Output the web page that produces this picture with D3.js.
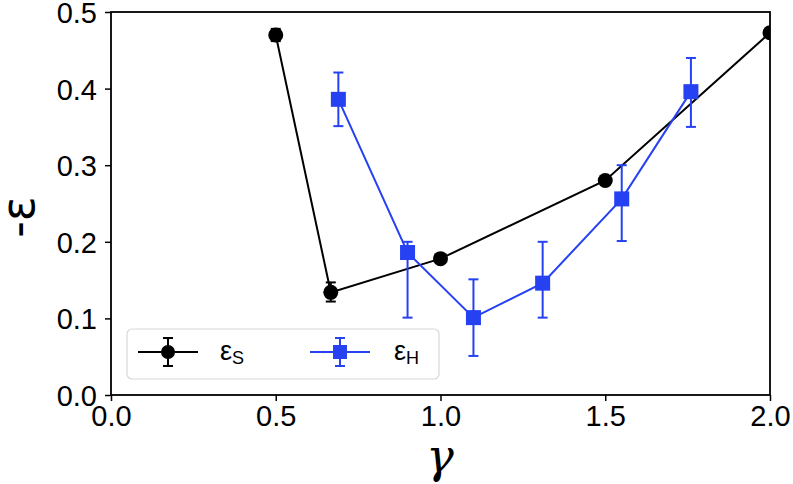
<!DOCTYPE html>
<html><head><meta charset="utf-8">
<script src="https://cdn.jsdelivr.net/npm/d3@7"></script>
<style>body{margin:0;background:#fff}</style>
</head><body>
<svg id="c" width="793" height="484"></svg>
<script>
// ε_S series
const sX = [0.5, 0.667, 1.0, 1.5, 2.0];
const sY = [0.470, 0.134, 0.178, 0.280, 0.473];
const sLo = [0.462, 0.122, 0.174, 0.276, 0.469];
const sHi = [0.478, 0.147, 0.182, 0.284, 0.477];
// ε_H series
const hX = [0.69, 0.90, 1.10, 1.31, 1.55, 1.76];
const hY = [0.386, 0.186, 0.101, 0.146, 0.256, 0.396];
const hLo = [0.351, 0.101, 0.051, 0.101, 0.201, 0.350];
const hHi = [0.421, 0.200, 0.151, 0.200, 0.300, 0.440];
const xTicks = [0.0, 0.5, 1.0, 1.5, 2.0];
const yTicks = [0.0, 0.1, 0.2, 0.3, 0.4, 0.5];

const black = "#000000", blue = "#2541f2";
const svg = d3.select("#c");
const L = 111, R = 770, T = 12, B = 395;
const x = d3.scaleLinear().domain([0, 2]).range([L, R]);
const y = d3.scaleLinear().domain([0, 0.5]).range([B, T]);
const font = "'Liberation Sans', Arial, Helvetica, sans-serif";

svg.append("defs").append("clipPath").attr("id", "clip")
  .append("rect").attr("x", L).attr("y", T).attr("width", R - L).attr("height", B - T);

// axes
const xa = svg.append("g").attr("transform", `translate(0,${B})`)
  .call(d3.axisBottom(x).tickValues(xTicks).tickFormat(d3.format(".1f")).tickSize(6).tickPadding(4));
const ya = svg.append("g").attr("transform", `translate(${L},0)`)
  .call(d3.axisLeft(y).tickValues(yTicks).tickFormat(d3.format(".1f")).tickSize(6).tickPadding(8));
[xa, ya].forEach(g => {
  g.select(".domain").remove();
  g.selectAll("line").attr("stroke", "#000").attr("stroke-width", 1.5);
  g.selectAll("text").attr("font-family", font).attr("font-size", 29).attr("fill", "#000");
});
ya.selectAll("text").attr("dy", "0.36em");
// frame
svg.append("rect").attr("x", L).attr("y", T).attr("width", R - L).attr("height", B - T)
  .attr("fill", "none").attr("stroke", "#000").attr("stroke-width", 1.8);

const plot = svg.append("g").attr("clip-path", "url(#clip)");
function series(xs, ys, lo, hi, col, shape) {
  const pts = xs.map((d, i) => ({x: d, y: ys[i], lo: lo[i], hi: hi[i]}));
  plot.append("path").datum(pts)
    .attr("d", d3.line().x(d => x(d.x)).y(d => y(d.y)))
    .attr("fill", "none").attr("stroke", col).attr("stroke-width", 2);
  const eb = plot.append("g");
  pts.forEach(d => {
    eb.append("line").attr("x1", x(d.x)).attr("x2", x(d.x)).attr("y1", y(d.lo)).attr("y2", y(d.hi))
      .attr("stroke", col).attr("stroke-width", 2);
    [d.lo, d.hi].forEach(v => eb.append("line").attr("x1", x(d.x) - 5).attr("x2", x(d.x) + 5)
      .attr("y1", y(v)).attr("y2", y(v)).attr("stroke", col).attr("stroke-width", 2));
  });
  pts.forEach(d => {
    if (shape === "circle") plot.append("circle").attr("cx", x(d.x)).attr("cy", y(d.y)).attr("r", 7.5).attr("fill", col);
    else plot.append("rect").attr("x", x(d.x) - 7.5).attr("y", y(d.y) - 7.5).attr("width", 15).attr("height", 15).attr("fill", col);
  });
}
series(sX, sY, sLo, sHi, black, "circle");
series(hX, hY, hLo, hHi, blue, "square");

// legend
const lg = svg.append("g");
lg.append("rect").attr("x", 127).attr("y", 329).attr("width", 312).attr("height", 50).attr("rx", 5)
  .attr("fill", "#fff").attr("fill-opacity", 0.85).attr("stroke", "#d8d8d8").attr("stroke-width", 1.2);
function legItem(cx, col, shape, sub, tx) {
  const cy = 352;
  lg.append("line").attr("x1", cx - 30).attr("x2", cx + 30).attr("y1", cy).attr("y2", cy).attr("stroke", col).attr("stroke-width", 2);
  lg.append("line").attr("x1", cx).attr("x2", cx).attr("y1", cy - 14).attr("y2", cy + 14).attr("stroke", col).attr("stroke-width", 2);
  [cy - 14, cy + 14].forEach(v => lg.append("line").attr("x1", cx - 5).attr("x2", cx + 5).attr("y1", v).attr("y2", v).attr("stroke", col).attr("stroke-width", 2));
  if (shape === "circle") lg.append("circle").attr("cx", cx).attr("cy", cy).attr("r", 7).attr("fill", col);
  else lg.append("rect").attr("x", cx - 7).attr("y", cy - 7).attr("width", 14).attr("height", 14).attr("fill", col);
  const t = lg.append("text").attr("x", tx).attr("y", cy + 8).attr("font-family", font).attr("font-size", 27).attr("fill", "#000");
  t.append("tspan").text("ε");
  t.append("tspan").attr("font-size", 18).attr("dy", 4).text(sub);
}
legItem(168, black, "circle", "S", 220);
legItem(340, blue, "square", "H", 394);

// axis labels
svg.append("text").attr("x", 440).attr("y", 472).attr("text-anchor", "middle")
  .attr("font-family", "'DejaVu Serif', serif").attr("font-style", "italic").attr("font-size", 46).text("γ");
svg.append("text").attr("transform", "translate(34,217) rotate(-90)").attr("text-anchor", "middle")
  .attr("font-family", "'DejaVu Sans', sans-serif").attr("font-size", 46).attr("fill", "#000").text("-ε");
</script>
</body></html>
